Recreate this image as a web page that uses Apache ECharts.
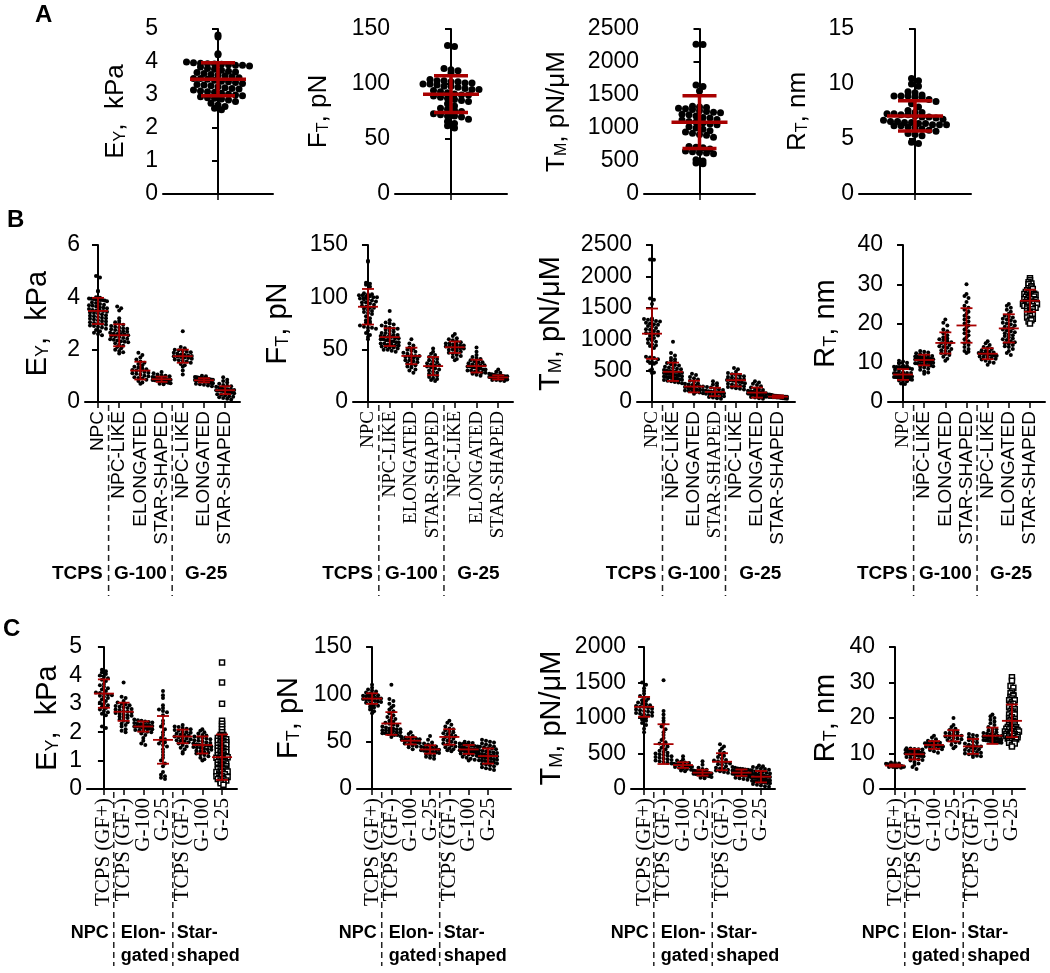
<!DOCTYPE html>
<html><head><meta charset="utf-8">
<script src="https://cdn.jsdelivr.net/npm/echarts@6/dist/echarts.min.js"></script>
<style>html,body{margin:0;padding:0;background:#fff}#c{width:1050px;height:973px}</style>
</head><body><div id="c"></div>
<script>
// ---------------- DATA ----------------
const catsB = ['NPC','NPC-LIKE','ELONGATED','STAR-SHAPED','NPC-LIKE','ELONGATED','STAR-SHAPED'];
const catsC = ['TCPS (GF+)','TCPS (GF-)','G-100','G-25','TCPS (GF-)','G-100','G-25'];
const groupsB = ['TCPS','G-100','G-25'];
const groupsC = ['NPC','Elon-\ngated','Star-\nshaped'];

const ticksE_A = [0,1,2,3,4,5];
const ticksF_A = [0,50,100,150];
const ticksT_A = [0,500,1000,1500,2000,2500];
const ticksR_A = [0,5,10,15];
const ticksE_B = [0,2,4,6];
const ticksF_B = [0,50,100,150];
const ticksT_B = [0,500,1000,1500,2000,2500];
const ticksR_B = [0,10,20,30,40];
const ticksE_C = [0,1,2,3,4,5];
const ticksF_C = [0,50,100,150];
const ticksT_C = [0,500,1000,1500,2000];
const ticksR_C = [0,10,20,30,40];

// NPC (TCPS) — panel A and first category of panel B
const E_NPC = [4.82,4.76,4.25,4.22,4.0,3.98,3.96,3.95,3.94,3.93,3.92,3.9,3.9,3.88,3.85,3.8,3.78,3.75,3.72,3.7,3.68,3.65,3.62,3.6,3.58,3.55,3.52,3.5,3.5,3.48,3.45,3.42,3.4,3.38,3.35,3.32,3.3,3.28,3.25,3.22,3.2,3.18,3.15,3.12,3.1,3.08,3.05,3.02,3.0,2.98,2.95,2.92,2.9,2.88,2.85,2.8,2.75,2.7,2.65,2.6,2.55];
const F_NPC = [135,134,114,113,112,110,104,103,103,102,102,101,101,100,100,99,98,98,97,96,95,95,94,93,92,91,90,90,89,88,87,86,85,84,82,80,78,77,76,75,73,72,71,71,70,68,66,64,62,60];
const T_NPC = [2270,2265,1650,1630,1560,1330,1320,1310,1300,1290,1280,1260,1250,1240,1230,1210,1200,1180,1160,1150,1130,1120,1100,1090,1080,1060,1050,1020,1000,980,960,940,920,900,890,860,720,710,700,680,650,640,630,620,610,520,500,470,460];
const R_NPC = [10.5,10.3,10.0,9.8,9.3,9.2,9.0,8.9,8.9,8.9,8.8,8.8,8.6,8.4,8.2,7.9,7.6,7.4,7.4,7.3,7.3,7.2,7.2,7.1,7.0,7.0,6.9,6.8,6.7,6.6,6.6,6.5,6.5,6.4,6.4,6.3,6.3,6.3,6.2,6.2,6.1,6.0,5.9,5.8,5.7,5.5,5.4,5.3,4.7,4.6];

// Panel B: E_Y
const eB1 = [3.65,3.58,3.5,3.2,3.1,3.05,3.0,2.95,2.9,2.88,2.85,2.82,2.8,2.78,2.75,2.72,2.7,2.68,2.65,2.62,2.6,2.6,2.58,2.55,2.52,2.5,2.48,2.45,2.42,2.4,2.38,2.35,2.32,2.3,2.28,2.25,2.2,2.15,2.1,2.05,2.0,1.95,1.9,1.85];
const eB2 = [1.88,1.8,1.7,1.62,1.55,1.5,1.45,1.4,1.35,1.32,1.28,1.25,1.22,1.2,1.18,1.15,1.12,1.1,1.08,1.05,1.0,0.98,0.95,0.92,0.9,0.85,0.8,0.75,0.7];
const eB3 = [1.15,1.1,1.05,1.02,1.0,0.98,0.96,0.95,0.93,0.92,0.9,0.9,0.89,0.88,0.87,0.86,0.85,0.84,0.83,0.82,0.8,0.79,0.78,0.76,0.74,0.72,0.7,0.68];
const eB4 = [2.7,2.1,2.05,2.0,1.98,1.95,1.92,1.9,1.88,1.85,1.82,1.8,1.78,1.76,1.75,1.74,1.72,1.7,1.68,1.65,1.62,1.6,1.58,1.55,1.5,1.45,1.4,1.35,1.2,1.05];
const eB5 = [1.0,0.98,0.96,0.95,0.94,0.93,0.92,0.91,0.9,0.9,0.89,0.88,0.87,0.87,0.86,0.85,0.85,0.84,0.83,0.83,0.82,0.81,0.8,0.8,0.79,0.78,0.77,0.76,0.75,0.74,0.73,0.72,0.7,0.68,0.66,0.63,0.6];
const eB6 = [0.95,0.85,0.8,0.75,0.7,0.65,0.62,0.6,0.58,0.55,0.52,0.5,0.48,0.47,0.46,0.45,0.44,0.43,0.42,0.4,0.38,0.36,0.35,0.33,0.3,0.28,0.25,0.22,0.2,0.18,0.15,0.12,0.1];
// Panel B: F_T
const fB1 = [87,78,76,75,74,73,72,71,70,70,69,68,67,66,66,65,64,64,63,63,62,62,61,61,60,60,59,59,58,58,57,57,56,56,55,55,54,54,53,53,52,52,51,50,50,49,48];
const fB2 = [60,56,54,52,51,50,49,48,47,46,45,44,44,43,43,42,41,40,40,39,38,37,36,35,34,33,31,30,28];
const fB3 = [51,48,46,45,43,42,41,40,39,38,37,36,35,35,34,33,32,31,30,29,28,27,26,25,24,23,22,21,20];
const fB4 = [65,63,61,60,59,58,57,56,56,55,55,54,54,53,53,52,52,51,51,50,50,49,48,47,46,45,44,43,41,40];
const fB5 = [52,48,45,43,42,41,40,39,38,38,37,36,36,35,35,34,34,33,33,32,32,31,31,30,30,29,29,28,28,27,26,25];
const fB6 = [31,29,28,27,26.5,26,25.5,25,25,24.5,24.5,24,24,24,23.5,23.5,23.5,23,23,23,22.5,22.5,22.5,22,22,22,21.5,21.5,21,21,20.5,20];
// Panel B: T_M
const tB1 = [960,780,740,700,680,660,640,620,600,590,580,560,550,540,530,520,510,500,495,490,480,470,465,460,450,445,440,430,425,420,410,405,400,395,390,380,375,370,360,355,350,340,330,320,310,300];
const tB2 = [450,430,400,380,360,340,320,300,290,280,270,260,250,245,240,230,220,210,200,195,190,185,180,170,160,150,140,130];
const tB3 = [330,300,280,260,240,230,210,200,190,180,170,165,160,155,150,145,140,130,120,110,100,95,90,80,70,60,50];
const tB4 = [540,520,480,460,440,430,420,410,400,390,380,370,360,350,345,340,330,320,310,300,290,280,270,260,250,240,230,220,210,200];
const tB5 = [330,310,290,270,250,230,210,200,190,180,170,165,160,155,150,145,140,135,130,125,120,115,110,105,100,95,90,85,80,70,60,50];
const tB6 = [120,115,110,105,100,98,95,92,90,88,86,85,84,82,80,78,76,74,72,70,65,60,55,50];
// Panel B: R_T
const rB1 = [13.0,12.8,12.6,12.4,12.2,12.0,11.8,11.7,11.6,11.5,11.4,11.3,11.2,11.1,11.0,10.9,10.8,10.8,10.7,10.6,10.5,10.5,10.4,10.3,10.2,10.1,10.0,9.9,9.8,9.7,9.6,9.5,9.4,9.3,9.1,9.0,8.8,8.5,8.2,7.8,7.5,7.2];
const rB2 = [21.0,20.2,19.5,18.5,18.0,17.5,17.0,16.5,16.2,16.0,15.8,15.5,15.2,15.0,14.8,14.5,14.2,14.0,13.8,13.5,13.2,13.0,12.8,12.5,12.2,12.0,11.5,11.0,10.5];
const rB3 = [30.0,27.5,27.0,26.5,25.5,24.5,24.0,23.5,23.0,22.5,22.0,21.5,21.0,20.5,20.0,19.5,19.0,18.5,18.0,17.5,17.0,16.5,16.0,15.5,15.0,14.5,14.0,13.5,13.0,12.8,12.5];
const rB4 = [15.5,15.0,14.5,14.0,13.8,13.5,13.2,13.0,12.8,12.6,12.5,12.4,12.3,12.2,12.1,12.0,11.9,11.8,11.6,11.5,11.4,11.2,11.0,10.8,10.5,10.2,10.0,9.5];
const rB5 = [25.0,24.5,24.0,23.5,23.0,22.5,22.0,21.8,21.5,21.2,21.0,20.8,20.5,20.2,20.0,19.8,19.5,19.2,19.0,18.8,18.5,18.2,18.0,17.8,17.5,17.2,17.0,16.8,16.5,16.2,16.0,15.8,15.5,15.2,15.0,14.8,14.5,14.2,14.0,13.5,13.0,12.5,12.0];
const rB6 = [31.5,31.0,30.5,30.0,29.5,29.0,28.5,28.2,28.0,27.8,27.5,27.2,27.0,26.8,26.5,26.2,26.0,25.8,25.5,25.2,25.0,24.8,24.5,24.2,24.0,23.8,23.5,23.2,23.0,22.5,22.0,21.5,21.0,20.5,20.0,
  30.2,29.2,28.8,28.0,27.6,27.0,26.6,26.2,25.9,25.6,25.4,25.0,24.6,24.4,24.0,23.6,23.0,22.6,22.2,21.2,20.8,27.3,26.9,25.1,24.9];

// Panel C: E_Y
const eC0 = [4.2,4.15,4.1,4.05,4.0,3.95,3.9,3.85,3.8,3.7,3.65,3.6,3.55,3.5,3.45,3.4,3.38,3.35,3.32,3.3,3.28,3.25,3.2,3.15,3.1,3.05,3.0,2.95,2.9,2.85,2.8,2.75,2.7,2.65,2.6,2.2,2.15];
const eC1 = [3.75,3.25,3.2,3.1,3.05,3.0,2.98,2.95,2.92,2.9,2.88,2.85,2.82,2.8,2.78,2.75,2.72,2.7,2.68,2.65,2.62,2.6,2.58,2.55,2.52,2.5,2.45,2.4,2.35,2.3,2.25,2.2,2.1,2.05,2.0];
const eC2 = [2.45,2.42,2.4,2.38,2.36,2.34,2.32,2.3,2.28,2.26,2.25,2.24,2.22,2.2,2.2,2.18,2.16,2.15,2.14,2.12,2.1,2.08,2.06,2.04,2.02,2.0,1.95,1.9,1.8,1.7,1.6,1.55];
const eC3 = [3.45,3.3,3.2,2.95,2.85,2.8,2.75,2.7,2.6,2.4,2.3,2.2,2.1,2.0,1.9,1.8,1.75,1.7,1.65,1.6,1.55,1.5,1.4,1.3,1.2,1.1,1.0,0.9,0.8,0.6,0.5,0.45,0.4,0.35];
const eC4 = [2.25,2.2,2.18,2.15,2.12,2.1,2.08,2.05,2.02,2.0,1.98,1.95,1.92,1.9,1.88,1.85,1.82,1.8,1.78,1.75,1.72,1.7,1.68,1.65,1.6,1.55,1.5,1.45,1.4,1.3,1.25];
const eC5 = [2.1,2.05,2.0,1.95,1.9,1.88,1.85,1.82,1.8,1.78,1.75,1.72,1.7,1.68,1.65,1.62,1.6,1.58,1.56,1.55,1.54,1.52,1.5,1.48,1.46,1.44,1.42,1.4,1.38,1.35,1.32,1.3,1.28,1.25,1.22,1.2,1.15,1.1,1.05,1.0];
const eC6 = [4.45,3.75,3.0,2.4,2.3,2.2,2.1,2.0,1.9,1.85,1.8,1.75,1.7,1.65,1.6,1.55,1.5,1.45,1.4,1.35,1.3,1.25,1.2,1.15,1.1,1.05,1.0,0.95,0.9,0.85,0.8,0.75,0.7,0.65,0.6,0.55,0.5,0.45,0.4,0.35,0.3,0.25,0.2,0.15,
  1.9,1.85,1.8,1.75,1.7,1.65,1.6,1.5,1.45,1.4,1.35,1.3,1.25,1.2,1.15,1.1,1.05,1.0,0.95,0.9,0.85,0.8,0.75,0.7,0.65,0.6,0.55,0.5,0.45,0.4,0.35,0.3,0.25,1.55,1.12,0.98,0.72,0.62,0.52,0.42];
// Panel C: F_T
const fC0 = [110,107,105,104,103,102,101,100,99,98.5,98,97.5,97,96.5,96,95.5,95,94.5,94,93.5,93,92.5,92,91,90,89,88,87,86,84,82,80];
const fC1 = [110,95,93,90,88,86,84,82,80,78,76,75,74,72,71,70,69,68,67,66,65,64,64,63,63,62,62,61,61,60,60,59,59,58,58,57,57,56,55];
const fC2 = [60,58,56,55,54.5,54,53.5,53,52.5,52,51.5,51,50.5,50,49.5,49,48.5,48,47,46,45,44,42];
const fC3 = [56,52,49,48,47,46,45,44.5,44,43.5,43,42.5,42,41.5,41,40.5,40,39.5,39,38.5,38,37,36,35,34,33,32];
const fC4 = [72,70,68,66,64,63,62,61,60,59,58,57,56,55,54,53,52,51,50,49,48,47,46,45,44,43,42,41,40];
const fC5 = [50,49,48.5,48,47.5,47,46.5,46,45.5,45,44.5,44,43.5,43,42.5,42,42,41.5,41.5,41,41,40.5,40.5,40,40,39.5,39,38.5,38,37.5,37,36.5,36,35,34,33,32,31,30];
const fC6 = [52,51,50,49,48,47,46,45,44.5,44,43,42.5,42,41,40.5,40,39,38.5,38,37.5,37,36.5,36,35.5,35,34.5,34,33.5,33,32.5,32,31.5,31,30.5,30,29.5,29,28.5,28,27,26.5,26,25,24,23,22,21,20];
// Panel C: T_M
const tC0 = [1500,1470,1420,1380,1340,1310,1290,1270,1250,1240,1220,1200,1190,1180,1170,1160,1150,1140,1130,1120,1110,1100,1090,1080,1070,1060,1050,1040,1030,1020,1000,980,960,930,900,850,800];
const tC1 = [1530,1100,1050,1000,960,920,880,840,800,760,720,690,660,640,620,600,580,560,540,520,510,500,490,480,470,460,450,440,430,420,410,400,390,380,370,360];
const tC2 = [460,420,400,385,375,365,355,350,345,340,335,330,325,320,315,310,300,290,280,270,260,250];
const tC3 = [390,340,300,280,270,260,255,250,245,240,235,230,225,220,215,210,205,200,195,190,185,180,170,160,150];
const tC4 = [630,600,570,540,510,490,470,450,430,410,400,390,380,370,360,350,340,320,300,290,280,270,260,250,240,230];
const tC5 = [310,300,290,285,280,275,270,265,260,255,250,245,240,238,235,232,230,228,225,222,220,218,215,212,210,205,200,195,190,185,180,170,160,150,140,130];
const tC6 = [330,320,310,300,290,280,270,260,250,245,240,230,220,215,210,205,200,195,190,185,180,175,170,165,160,155,150,145,140,135,130,125,120,115,110,105,100,95,90,85,80,70,60,50,40,30];
// Panel C: R_T
const rC0 = [7.5,7.3,7.2,7.1,7.0,6.9,6.9,6.8,6.8,6.7,6.7,6.6,6.6,6.6,6.5,6.5,6.5,6.4,6.4,6.4,6.3,6.3,6.2,6.2,6.1,6.0];
const rC1 = [11.5,11.4,11.3,11.2,11.1,11.0,10.9,10.8,10.7,10.6,10.5,10.4,10.3,10.2,10.1,10.0,9.9,9.8,9.7,9.6,9.5,9.4,9.3,9.2,9.0,8.8,8.6,8.4,8.2,8.0,7.6,7.2,6.8,6.2,5.6];
const rC2 = [15.0,14.5,14.0,13.6,13.4,13.2,13.0,12.9,12.8,12.7,12.6,12.5,12.4,12.3,12.2,12.1,12.0,11.9,11.8,11.6,11.4,11.2,11.0,10.6,10.2];
const rC3 = [20.0,18.0,17.5,17.0,16.6,16.3,16.0,15.8,15.6,15.4,15.2,15.0,14.8,14.6,14.4,14.2,14.0,13.8,13.5,13.2,13.0,12.5,12.0,11.5];
const rC4 = [15.5,15.2,15.0,14.6,14.3,14.0,13.7,13.4,13.1,12.8,12.5,12.3,12.1,12.0,11.8,11.6,11.4,11.2,11.0,10.8,10.6,10.4,10.2,10.0,9.8,9.6,9.4,9.2,9.0];
const rC5 = [21.0,20.5,20.0,19.5,19.0,18.5,18.0,17.5,17.0,16.8,16.5,16.2,16.0,15.8,15.6,15.4,15.2,15.0,14.9,14.8,14.7,14.6,14.5,14.4,14.3,14.2,14.1,14.0,13.9,13.8,13.7,13.6,13.5,13.4,13.3,13.2,13.1,13.0];
const rC6 = [31.5,30.5,29.0,27.5,27.0,26.5,26.0,25.5,25.0,24.5,24.0,23.5,23.0,22.5,22.0,21.5,21.0,20.5,20.0,19.5,19.0,18.5,18.0,17.8,17.5,17.2,17.0,16.8,16.5,16.2,16.0,15.8,15.5,15.2,15.0,14.8,14.5,14.2,14.0,13.5,13.0,12.5,12.0,
  28.5,26.2,25.0,24.0,23.2,22.5,21.8,21.0,20.2,19.8,19.2,18.8,18.2,17.6,17.0,16.6,16.4,16.0,15.6,15.4,15.0,14.6,14.4,14.0,13.6,13.2,12.8,16.2,15.2,17.4];

// Mean and SD (error bars) per category
const meanE_A = [3.48], sdE_A = [0.5];
const meanF_A = [90.7], sdF_A = [16.7];
const meanT_A = [1088], sdT_A = [400];
const meanR_A = [7.1], sdR_A = [1.37];
const meanE_B = [3.48,2.55,1.2,0.87,1.75,0.83,0.45], sdE_B = [0.5,0.42,0.34,0.1,0.25,0.08,0.15];
const meanF_B = [91,62,44,34.3,52.3,34.3,23.5], sdF_B = [17,8.5,7.9,8.7,5.5,6.1,2.0];
const meanT_B = [1088,481,246,160,347,150,85], sdT_B = [400,146,93,67,100,80,20];
const meanR_B = [7.0,10.7,15.05,19.5,12.3,18.75,25.8], sdR_B = [1.37,1.35,2.7,4.4,1.4,3.6,2.8];
const meanE_C = [3.36,2.72,2.2,1.73,1.85,1.55,1.12], sdE_C = [0.5,0.32,0.18,0.84,0.24,0.3,0.8];
const meanF_C = [95.5,69.2,51,41.8,55,41.8,34.8], sdF_C = [5.6,12,3.9,4.4,8.2,4.7,8];
const meanT_C = [1157,632,337,230,384,230,173], sdT_C = [140,280,40,42,120,45,80];
const meanR_C = [6.6,9.8,12.4,15.0,12.0,15.0,19.2], sdR_C = [0.3,1.5,1.1,1.6,2.1,2.3,4.6];

// ---------------- CHART ----------------
const RED = '#a80000';
const SANS = 'Liberation Sans', SERIF = 'Liberation Serif';
const grid = [], xAxis = [], yAxis = [], series = [];

function swarm(vals, ci, p, gap, maxHalf) {
  const ymax = p.ticks[p.ticks.length - 1];
  const kY = p.height / ymax;
  const kX = p.width / (p.xmax - p.xmin);
  const bin = gap * 0.85 / kY;
  const bins = new Map();
  vals.forEach(v => { const b = Math.round(v / bin); if (!bins.has(b)) bins.set(b, []); bins.get(b).push(v); });
  const out = [];
  bins.forEach(arr => {
    const n = arr.length;
    let s = gap;
    if (n > 1 && (n - 1) * s / 2 > maxHalf) s = 2 * maxHalf / (n - 1);
    arr.forEach((v, j) => out.push([ci + (j - (n - 1) / 2) * s / kX, v]));
  });
  return out;
}

function titleRich(main, sub, rest, size) {
  return {
    text: '{m|' + main + '}{s|' + sub + '}{m|' + rest + '}',
    rich: {
      m: { fontFamily: SANS, fontSize: size, color: '#000', lineHeight: size + 4, verticalAlign: 'bottom' },
      s: { fontFamily: SANS, fontSize: Math.round(size * 0.62), color: '#000', lineHeight: Math.round(size * 0.55), verticalAlign: 'bottom' }
    }
  };
}

function addPanel(p) {
  const gi = grid.length;
  const big = !p.cats;
  grid.push({ left: p.left, top: p.top, width: p.width, height: p.height, containLabel: false, outerBoundsMode: 'none' });
  const idx = p.data.map((_, i) => i);
  xAxis.push({
    gridIndex: gi, type: 'value', min: p.xmin, max: p.xmax,
    axisLine: { show: true, onZero: false, lineStyle: { color: '#000', width: 2 } },
    axisTick: { show: true, customValues: idx, length: 6, lineStyle: { color: '#000', width: 1.5 } },
    axisLabel: { show: false },
    splitLine: { show: false }
  });
  const t = titleRich(p.title[0], p.title[1], p.title[2], p.titleSize);
  yAxis.push({
    gridIndex: gi, type: 'value', min: 0, max: p.ticks[p.ticks.length - 1], interval: p.ticks[1] - p.ticks[0],
    name: t.text, nameLocation: 'middle', nameRotate: 90, nameGap: p.nameGap, nameMoveOverlap: false,
    nameTextStyle: { rich: t.rich },
    axisLine: { show: true, lineStyle: { color: '#000', width: 2 } },
    axisTick: { show: true, length: 6, lineStyle: { color: '#000', width: 2 } },
    axisLabel: { color: '#000', fontSize: 23, fontFamily: SANS, margin: 5, formatter: v => String(v), showMinLabel: true, showMaxLabel: true, hideOverlap: false },
    splitLine: { show: false }
  });
  const d = big ? 7 : 4;
  const maxHalf = big ? 32 : 9;
  p.data.forEach((vals, ci) => {
    const sq = ci === p.square;
    series.push({
      type: 'scatter', xAxisIndex: gi, yAxisIndex: gi, silent: true,
      symbol: sq ? 'rect' : 'circle', symbolSize: sq ? 5 : d,
      itemStyle: sq ? { color: '#fff', borderColor: '#000', borderWidth: 1.5, opacity: 1 } : { color: '#000', opacity: 1 },
      data: sq ? swarm(vals, ci, p, 2.8, 8) : swarm(vals, ci, p, d, maxHalf), z: 2
    });
  });
  const hw = big ? 28 : 10, cw = big ? 17 : 6, lw = big ? 3.5 : 1.8;
  series.push({
    type: 'custom', xAxisIndex: gi, yAxisIndex: gi, silent: true, z: 5, clip: false,
    data: p.means.map((m, i) => [i, m, p.sds[i]]),
    renderItem: (params, api) => {
      const x = api.value(0), m = api.value(1), s = api.value(2);
      const c = api.coord([x, m]), tp = api.coord([x, m + s]), bt = api.coord([x, m - s]);
      const st = { stroke: RED, lineWidth: lw };
      return { type: 'group', children: [
        { type: 'line', shape: { x1: c[0] - hw, y1: c[1], x2: c[0] + hw, y2: c[1] }, style: st },
        { type: 'line', shape: { x1: c[0], y1: tp[1], x2: c[0], y2: bt[1] }, style: st },
        { type: 'line', shape: { x1: c[0] - cw, y1: tp[1], x2: c[0] + cw, y2: tp[1] }, style: st },
        { type: 'line', shape: { x1: c[0] - cw, y1: bt[1], x2: c[0] + cw, y2: bt[1] }, style: st }
      ] };
    }
  });
  if (!big) {
    // category labels (rotated)
    series.push({
      type: 'custom', xAxisIndex: gi, yAxisIndex: gi, silent: true, clip: false, z: 3,
      data: idx.map(i => [i, 0]),
      renderItem: (params, api) => {
        const i = params.dataIndex;
        const q = api.coord([api.value(0), 0]);
        const serif = p.fonts[i] === 'r';
        return { type: 'text', x: q[0], y: q[1] + 9, rotation: Math.PI / 2,
          style: { text: p.cats[i], fontFamily: serif ? SERIF : SANS, fontSize: serif ? (p.serifSize || 19) : 19,
            fill: '#000', align: 'right', verticalAlign: 'middle' } };
      }
    });
    const len = p.row === 'B' ? 194 : 177;
    series.push({
      type: 'custom', xAxisIndex: gi, yAxisIndex: gi, silent: true, clip: false, z: 3,
      data: [[0.5, 0], [3.5, 0]],
      renderItem: (params, api) => {
        const q = api.coord([api.value(0), 0]);
        return { type: 'line', shape: { x1: q[0], y1: q[1] + 3, x2: q[0], y2: q[1] + len },
          style: { stroke: '#222', lineWidth: 1.5, lineDash: [6, 4] } };
      }
    });
    let gdefs;
    if (p.row === 'B') {
      gdefs = [[0.5, -6, 'right'], [2, 0, 'center'], [(3.5 + p.xmax) / 2, 0, 'center']];
    } else {
      gdefs = [[0.5, -5, 'right'], [0.5, 7, 'left'], [3.5, 4, 'left']];
    }
    series.push({
      type: 'custom', xAxisIndex: gi, yAxisIndex: gi, silent: true, clip: false, z: 3,
      data: gdefs.map((g, i) => [g[0], 0, i]),
      renderItem: (params, api) => {
        const i = api.value(2);
        const g = gdefs[i];
        const q = api.coord([api.value(0), 0]);
        const isB = p.row === 'B';
        return { type: 'text', x: q[0] + g[1], y: q[1] + (isB ? 172 : 133),
          style: { text: p.groups[i], fontFamily: SANS, fontWeight: 'bold', fontSize: isB ? 19 : 18,
            lineHeight: 23, fill: '#000', align: g[2], verticalAlign: isB ? 'middle' : 'top' } };
      }
    });
  }
}

const fsB1 = ['s','s','s','s','s','s','s'];
const fsB2 = ['r','r','r','r','r','r','r'];
const fsB3 = ['r','s','s','r','s','s','s'];
const fsB4 = ['r','s','s','s','s','s','s'];
const fsC = ['r','r','r','r','r','r','r'];

const tE = ['E', 'Y', ',  kPa'], tF = ['F', 'T', ', pN'], tT = ['T', 'M', ', pN/\u03bcM'], tR = ['R', 'T', ', nm'];

// Row A
addPanel({ left: 163, top: 29, width: 110, height: 165, xmin: -1, xmax: 1, ticks: ticksE_A, title: tE, titleSize: 26, nameGap: 34, data: [E_NPC], means: meanE_A, sds: sdE_A });
addPanel({ left: 395, top: 29, width: 112, height: 165, xmin: -1, xmax: 1, ticks: ticksF_A, title: tF, titleSize: 26, nameGap: 63, data: [F_NPC], means: meanF_A, sds: sdF_A });
addPanel({ left: 644, top: 29, width: 111, height: 165, xmin: -1, xmax: 1, ticks: ticksT_A, title: tT, titleSize: 26, nameGap: 74, data: [T_NPC], means: meanT_A, sds: sdT_A });
addPanel({ left: 859, top: 29, width: 112, height: 165, xmin: -1, xmax: 1, ticks: ticksR_A, title: tR, titleSize: 26, nameGap: 48, data: [R_NPC], means: meanR_A, sds: sdR_A });
// Row B
addPanel({ row: 'B', left: 85, top: 245, width: 155, height: 157, xmin: -0.613, xmax: 6.70, ticks: ticksE_B, title: tE, titleSize: 29, nameGap: 33, cats: catsB, fonts: fsB1, groups: groupsB, data: [E_NPC, eB1, eB2, eB3, eB4, eB5, eB6], means: meanE_B, sds: sdE_B });
addPanel({ row: 'B', left: 353, top: 245, width: 160, height: 157, xmin: -0.69, xmax: 6.68, ticks: ticksF_B, title: tF, titleSize: 29, nameGap: 61, cats: catsB, fonts: fsB2, groups: groupsB, data: [F_NPC, fB1, fB2, fB3, fB4, fB5, fB6], means: meanF_B, sds: sdF_B });
addPanel({ row: 'B', left: 637, top: 245, width: 158, height: 157, xmin: -0.714, xmax: 6.81, ticks: ticksT_B, title: tT, titleSize: 29, nameGap: 72, cats: catsB, fonts: fsB3, groups: groupsB, data: [T_NPC, tB1, tB2, tB3, tB4, tB5, tB6], means: meanT_B, sds: sdT_B });
addPanel({ row: 'B', left: 888, top: 245, width: 157, height: 157, xmin: -0.71, xmax: 6.71, ticks: ticksR_B, title: tR, titleSize: 29, nameGap: 48, cats: catsB, fonts: fsB4, groups: groupsB, data: [R_NPC, rB1, rB2, rB3, rB4, rB5, rB6], means: meanR_B, sds: sdR_B, square: 6 });
// Row C
addPanel({ row: 'C', left: 87, top: 647, width: 150, height: 142, xmin: -0.86, xmax: 6.76, ticks: ticksE_C, title: tE, titleSize: 29, nameGap: 25, cats: catsC, fonts: fsC, serifSize: 21, groups: groupsC, data: [eC0, eC1, eC2, eC3, eC4, eC5, eC6], means: meanE_C, sds: sdE_C, square: 6 });
addPanel({ row: 'C', left: 357, top: 647, width: 154, height: 142, xmin: -0.78, xmax: 7.19, ticks: ticksF_C, title: tF, titleSize: 29, nameGap: 54, cats: catsC, fonts: fsC, serifSize: 21, groups: groupsC, data: [fC0, fC1, fC2, fC3, fC4, fC5, fC6], means: meanF_C, sds: sdF_C });
addPanel({ row: 'C', left: 631, top: 647, width: 144, height: 142, xmin: -0.67, xmax: 6.72, ticks: ticksT_C, title: tT, titleSize: 29, nameGap: 65, cats: catsC, fonts: fsC, serifSize: 21, groups: groupsC, data: [tC0, tC1, tC2, tC3, tC4, tC5, tC6], means: meanT_C, sds: sdT_C });
addPanel({ row: 'C', left: 880, top: 647, width: 145, height: 142, xmin: -0.77, xmax: 6.67, ticks: ticksR_C, title: tR, titleSize: 29, nameGap: 40, cats: catsC, fonts: fsC, serifSize: 21, groups: groupsC, data: [rC0, rC1, rC2, rC3, rC4, rC5, rC6], means: meanR_C, sds: sdR_C, square: 6 });

const chart = echarts.init(document.getElementById('c'), null, { renderer: 'canvas', width: 1050, height: 973 });
chart.setOption({
  animation: false,
  backgroundColor: '#fff',
  grid, xAxis, yAxis, series,
  graphic: [
    { type: 'text', left: 35, top: 3, style: { text: 'A', font: 'bold 24px "Liberation Sans"', fill: '#000' } },
    { type: 'text', left: 7, top: 208, style: { text: 'B', font: 'bold 24px "Liberation Sans"', fill: '#000' } },
    { type: 'text', left: 3, top: 617, style: { text: 'C', font: 'bold 24px "Liberation Sans"', fill: '#000' } }
  ]
});
</script></body></html>
